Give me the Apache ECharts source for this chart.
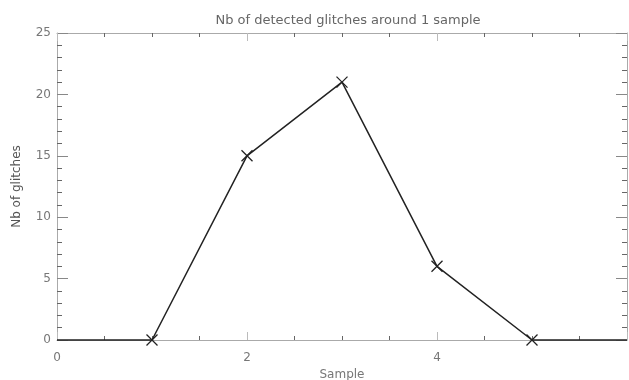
<!DOCTYPE html>
<html><head><meta charset="utf-8">
<script src="https://cdn.jsdelivr.net/npm/echarts@6/dist/echarts.min.js"></script>
<style>html,body{margin:0;padding:0;background:#fff}#c{width:629px;height:380px}</style>
</head><body><div id="c"></div>
<script>
const samples = [0, 1, 2, 3, 4, 5, 6];
const glitches = [0, 0, 15, 21, 6, 0, 0];
const title = 'Nb of detected glitches around 1 sample';
const xName = 'Sample';
const yName = 'Nb of glitches';

const font = 'DejaVu Sans';
const txt = '#777';
const axisCol = '#aaa';
const tickCol = '#666';

const chart = echarts.init(document.getElementById('c'), null, {renderer: 'canvas'});
const xCommon = {
  type: 'value', min: 0, max: 6, interval: 2,
  axisLine: {show: true, onZero: false, lineStyle: {color: axisCol, width: 1}},
  axisTick: {show: true, inside: true, length: 8, lineStyle: {color: '#bbb'}},
  minorTick: {show: true, splitNumber: 4, length: 4, lineStyle: {color: tickCol}},
  splitLine: {show: false}
};
const yCommon = {
  type: 'value', min: 0, max: 25, interval: 5,
  axisLine: {show: true, onZero: false, lineStyle: {color: axisCol, width: 1}},
  axisTick: {show: true, inside: true, length: 11, lineStyle: {color: '#888'}},
  minorTick: {show: true, splitNumber: 5, length: 5, lineStyle: {color: tickCol}},
  splitLine: {show: false}
};
chart.setOption({
  animation: false,
  backgroundColor: '#fff',
  title: {
    text: title, left: 343, top: 9, textAlign: 'center',
    textStyle: {fontFamily: font, fontSize: 13, fontWeight: 'normal', color: '#666'}
  },
  grid: {left: 57, right: 2, top: 33, bottom: 40, containLabel: false, outerBoundsMode: 'none'},
  xAxis: [
    Object.assign({}, xCommon, {
      position: 'bottom', name: xName, nameLocation: 'middle', nameGap: 28,
      nameTextStyle: {fontFamily: font, fontSize: 12, color: txt},
      axisLabel: {fontFamily: font, fontSize: 12, color: txt, margin: 12,
        formatter: v => (v === 6 ? '' : String(v))}
    }),
    Object.assign({}, xCommon, {position: 'top', axisLabel: {show: false}})
  ],
  yAxis: [
    Object.assign({}, yCommon, {
      position: 'left', name: yName, nameLocation: 'middle', nameGap: 34,
      nameTextStyle: {fontFamily: font, fontSize: 12, color: '#555'},
      axisLabel: {fontFamily: font, fontSize: 12, color: txt, margin: 6}
    }),
    Object.assign({}, yCommon, {position: 'right', axisLabel: {show: false}})
  ],
  series: [{
    type: 'line',
    data: samples.map((s, i) => ({
      value: [s, glitches[i]],
      symbol: (i === 0 || i === samples.length - 1) ? 'none' : 'path://M0,0L10,10M10,0L0,10'
    })),
    symbolSize: 11,
    showAllSymbol: true,
    symbolKeepAspect: true,
    itemStyle: {color: 'rgba(0,0,0,0)', borderColor: '#222', borderWidth: 1.3},
    lineStyle: {color: '#222', width: 1.5},
    clip: false
  }]
});
</script></body></html>
